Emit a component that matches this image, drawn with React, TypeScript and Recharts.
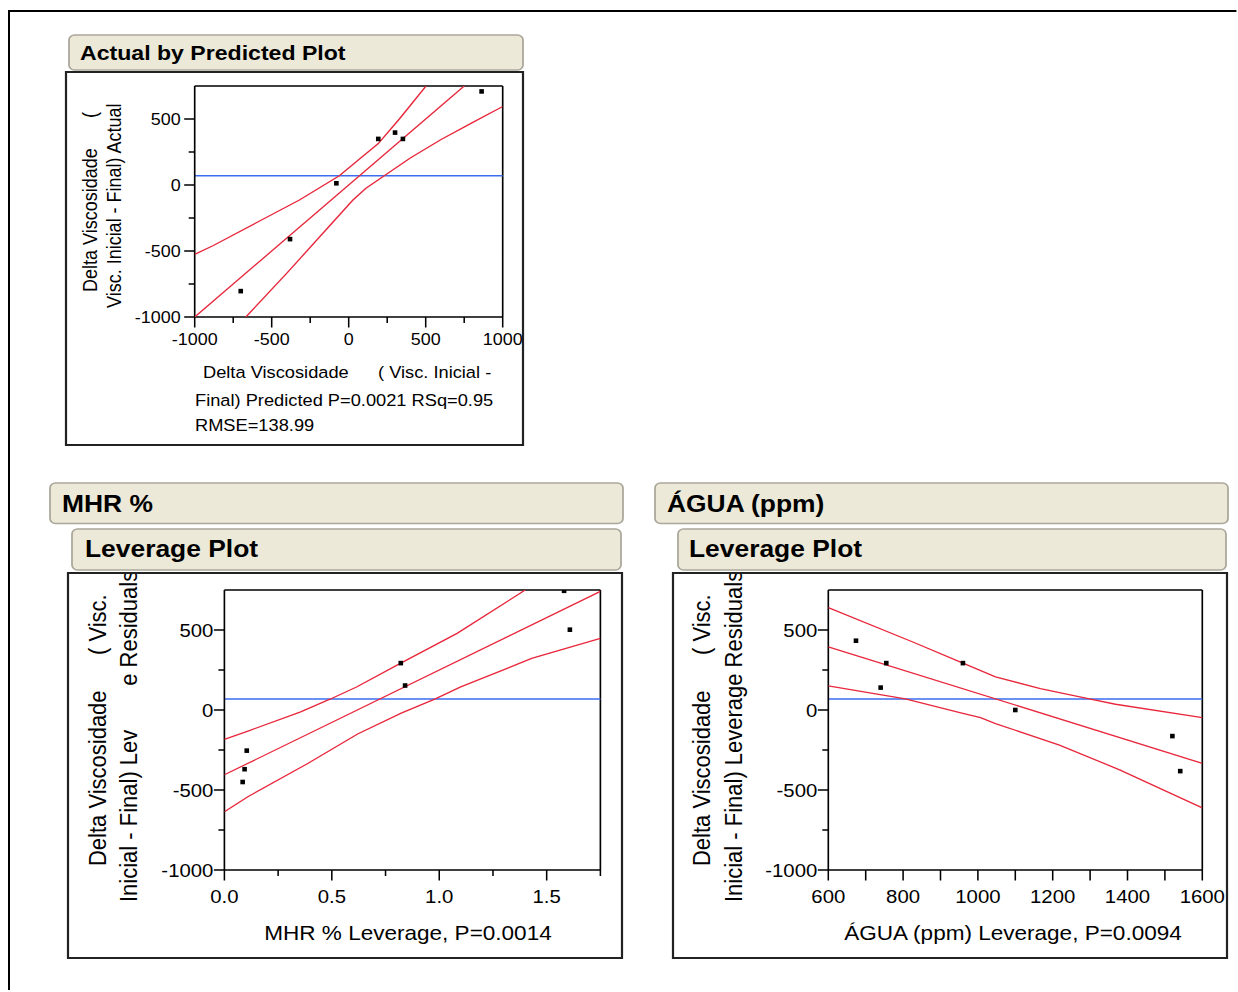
import React from 'react';
import { ComposedChart, XAxis, YAxis, Scatter, ReferenceLine } from 'recharts';

// the reference picture is a little wider than tall, so everything is drawn
// in narrower units and stretched back with scaleX
const SX = 1.1;
const sx = (v: number) => v / SX;
const FONT = '"Liberation Sans", Arial, Helvetica, sans-serif';
const RED = '#e8283c';
const BLUE = '#3a6df0';

// ---- Actual by Predicted ----
const predictedX = [-701, -381, -80, 192, 301, 352, 863];
const actualY = [-804, -410, 13, 349, 397, 349, 709];
const apFitX = [-1000, 1000];
const apFitY = [-1000, 1000];
const apUpperX = [-1000, -882, -600, -320, -61, 192, 329, 502];
const apUpperY = [-525, -460, -286, -114, 70, 314, 500, 750];
const apLowerX = [-668, -400, -147, 26, 112, 231, 400, 600, 800, 1000];
const apLowerY = [-1000, -666, -339, -116, -25, 70, 205, 345, 471, 595];
const apMean = 70;
const apXTicks = [-1000, -750, -500, -250, 0, 250, 500, 750, 1000];
const apYTicks = [-1000, -750, -500, -250, 0, 250, 500];

// ---- MHR % leverage ----
const mhrX = [0.085, 0.094, 0.104, 0.821, 0.841, 1.581, 1.608];
const mhrY = [-450, -370, -254, 293, 153, 745, 502];
const mhrFitX = [0, 1.75];
const mhrFitY = [-405, 741];
const mhrUpperX = [0, 0.113, 0.355, 0.494, 0.615, 0.821, 1.083, 1.4];
const mhrUpperY = [-184, -130, -12, 69, 144, 293, 479, 750];
const mhrLowerX = [0, 0.113, 0.39, 0.62, 0.823, 0.979, 1.1, 1.43, 1.75];
const mhrLowerY = [-636, -539, -333, -150, -20, 68, 144, 322, 448];
const mhrMean = 69;
const mhrXTicks = [0, 0.25, 0.5, 0.75, 1, 1.25, 1.5, 1.75];

// ---- ÁGUA (ppm) leverage ----
const aguaX = [674, 740, 755, 960, 1100, 1520, 1541];
const aguaY = [433, 140, 293, 293, 0, -163, -382];
const aguaFitX = [600, 1600];
const aguaFitY = [395, -333];
const aguaUpperX = [600, 826, 960, 1047, 1167, 1298, 1368, 1600];
const aguaUpperY = [640, 425, 293, 207, 134, 69, 36, -48];
const aguaLowerX = [600, 806, 957, 1007, 1047, 1218, 1379, 1600];
const aguaLowerY = [151, 69, -19, -48, -85, -219, -374, -612];
const aguaMean = 69;
const aguaXTicks = [600, 700, 800, 900, 1000, 1100, 1200, 1300, 1400, 1500, 1600];

const levYTicks = [-1000, -750, -500, -250, 0, 250, 500];

const zip = (xs: number[], ys: number[]) => xs.map((x, i) => ({ x, y: ys[i] }));
const isHalf = (v: number) => Math.abs(v * 2 - Math.round(v * 2)) < 1e-9;

const noShape = () => <g />;
const square = (size: number) => (props: any) => {
  const { cx, cy } = props;
  if (cx == null || cy == null) return <g />;
  const w = size / SX;
  return <rect x={cx - w / 2} y={cy - size / 2} width={w} height={size} fill="#000" />;
};

type TickOpts = {
  long: (v: number) => boolean;
  label: (v: number) => boolean;
  fmt: (v: number) => string;
  off: number;
  font: number;
};

const makeXTick = (o: TickOpts) => (props: any) => {
  const { x, y, payload } = props;
  const v = payload.value;
  const len = o.long(v) ? 10.5 : 6;
  return (
    <g>
      <line x1={x} x2={x} y1={y} y2={y + len} stroke="#000" strokeWidth={1.4} />
      {o.label(v) && (
        <text x={x} y={y + o.off} textAnchor="middle" fontSize={o.font} fontFamily={FONT} fill="#000">
          {o.fmt(v)}
        </text>
      )}
    </g>
  );
};

const makeYTick = (o: TickOpts) => (props: any) => {
  const { x, y, payload } = props;
  const v = payload.value;
  const len = o.long(v) ? 10.5 : 6;
  return (
    <g>
      <line x1={x} x2={x - len / SX} y1={y} y2={y} stroke="#000" strokeWidth={1.4} />
      {o.label(v) && (
        <text x={x - o.off / SX} y={y + o.font * 0.36} textAnchor="end" fontSize={o.font} fontFamily={FONT} fill="#000">
          {o.fmt(v)}
        </text>
      )}
    </g>
  );
};

type Rect = { L: number; R: number; T: number; B: number };

function Plot(props: {
  plot: Rect;
  xDomain: [number, number];
  yDomain: [number, number];
  xTicks: number[];
  yTicks: number[];
  xTick: (p: any) => React.ReactElement;
  yTick: (p: any) => React.ReactElement;
  points: { x: number; y: number }[];
  fit: { x: number; y: number }[];
  upper: { x: number; y: number }[];
  lower: { x: number; y: number }[];
  mean: number;
}) {
  const { plot } = props;
  const YW = 60, MT = 10, MR = 40, XH = 50;
  const w = YW + sx(plot.R - plot.L) + MR;
  const h = MT + (plot.B - plot.T) + XH;
  const red = { stroke: RED, strokeWidth: 1.3 };
  return (
    <div style={{ position: 'absolute', left: sx(plot.L) - YW, top: plot.T - MT }}>
      <ComposedChart width={w} height={h} margin={{ top: MT, right: MR, bottom: 0, left: 0 }}>
        <XAxis
          type="number"
          dataKey="x"
          domain={props.xDomain}
          ticks={props.xTicks}
          interval={0}
          allowDataOverflow
          height={XH}
          tickLine={false}
          tickSize={0}
          tickMargin={0}
          axisLine={{ stroke: '#000', strokeWidth: 1.5 }}
          tick={props.xTick}
        />
        <YAxis
          type="number"
          dataKey="y"
          domain={props.yDomain}
          ticks={props.yTicks}
          interval={0}
          allowDataOverflow
          width={YW}
          tickLine={false}
          tickSize={0}
          tickMargin={0}
          axisLine={{ stroke: '#000', strokeWidth: 1.5 }}
          tick={props.yTick}
        />
        <ReferenceLine y={props.yDomain[1]} stroke="#000" strokeWidth={1.5} />
        <ReferenceLine x={props.xDomain[1]} stroke="#000" strokeWidth={1.5} />
        <ReferenceLine y={props.mean} stroke={BLUE} strokeWidth={1.5} />
        <Scatter data={props.upper} line={red} shape={noShape} isAnimationActive={false} />
        <Scatter data={props.fit} line={red} shape={noShape} isAnimationActive={false} />
        <Scatter data={props.lower} line={red} shape={noShape} isAnimationActive={false} />
        <Scatter data={props.points} shape={square(4.6)} isAnimationActive={false} />
      </ComposedChart>
    </div>
  );
}

function Txt(p: { x: number; y: number; size: number; bold?: boolean; anchor?: string; rot?: boolean; children: React.ReactNode }) {
  const x = sx(p.x);
  return (
    <text
      x={x}
      y={p.y}
      fontSize={p.size}
      fontWeight={p.bold ? 'bold' : 'normal'}
      fontFamily={FONT}
      fill="#000"
      textAnchor={(p.anchor as any) || 'start'}
      transform={p.rot ? `rotate(-90 ${x} ${p.y})` : undefined}
    >
      {p.children}
    </text>
  );
}

function Header(p: { x: number; y: number; w: number; h: number }) {
  return <rect x={sx(p.x)} y={p.y} width={sx(p.w)} height={p.h} rx={5} fill="#ece9d8" stroke="#aaa79a" strokeWidth={1.6} />;
}

function Frame(p: { x: number; y: number; w: number; h: number }) {
  return <rect x={sx(p.x)} y={p.y} width={sx(p.w)} height={p.h} fill="#fff" stroke="#222" strokeWidth={2} />;
}

function Overlay() {
  return (
    <svg width={sx(1236)} height={990} style={{ position: 'absolute', left: 0, top: 0 }}>
      <defs>
        <clipPath id="clipL">
          <rect x={sx(69)} y={574} width={sx(552)} height={383} />
        </clipPath>
        <clipPath id="clipR">
          <rect x={sx(674)} y={574} width={sx(552)} height={383} />
        </clipPath>
      </defs>
      <rect x={sx(8)} y={10} width={sx(1230)} height={2} fill="#000" />
      <rect x={sx(8)} y={10} width={sx(2)} height={982} fill="#000" />

      {/* Actual by Predicted */}
      <Header x={69} y={35} w={454} h={35} />
      <Txt x={80} y={60} size={21} bold>Actual by Predicted Plot</Txt>
      <Frame x={66} y={72} w={457} h={373} />
      <Txt x={97.5} y={292} size={18} rot>Delta Viscosidade</Txt>
      <Txt x={97.5} y={118} size={18} rot>(</Txt>
      <Txt x={121} y={308} size={18} rot>Visc. Inicial - Final) Actual</Txt>
      <Txt x={203} y={378} size={16.6}>Delta Viscosidade</Txt>
      <Txt x={378} y={378} size={16.6}>( Visc. Inicial -</Txt>
      <Txt x={195} y={406} size={16.6}>Final) Predicted P=0.0021 RSq=0.95</Txt>
      <Txt x={195} y={431} size={16.6}>RMSE=138.99</Txt>

      {/* MHR % */}
      <Header x={50} y={483} w={573} h={40.5} />
      <Txt x={62} y={512} size={24} bold>MHR %</Txt>
      <Header x={72} y={529} w={549} h={41} />
      <Txt x={85} y={557} size={24} bold>Leverage Plot</Txt>
      <Frame x={68} y={573} w={554} h={385} />
      <g clipPath="url(#clipL)">
        <Txt x={106} y={866} size={22} rot>Delta Viscosidade</Txt>
        <Txt x={106} y={655} size={22} rot>( Visc.</Txt>
        <Txt x={137} y={902} size={22} rot>Inicial - Final) Leverage Residuals</Txt>
      </g>
      <rect x={sx(115)} y={686} width={sx(32)} height={43} fill="#fff" />
      <Txt x={408} y={940} size={20.5} anchor="middle">MHR % Leverage, P=0.0014</Txt>

      {/* ÁGUA (ppm) */}
      <Header x={655} y={483} w={573} h={40.5} />
      <Txt x={667} y={512} size={24} bold>ÁGUA (ppm)</Txt>
      <Header x={678} y={529} w={548} h={41} />
      <Txt x={689} y={557} size={24} bold>Leverage Plot</Txt>
      <Frame x={673} y={573} w={554} h={385} />
      <g clipPath="url(#clipR)">
        <Txt x={710.5} y={866} size={22} rot>Delta Viscosidade</Txt>
        <Txt x={710.5} y={655} size={22} rot>( Visc.</Txt>
        <Txt x={742} y={902} size={22} rot>Inicial - Final) Leverage Residuals</Txt>
      </g>
      <Txt x={1013} y={940} size={20.5} anchor="middle">ÁGUA (ppm) Leverage, P=0.0094</Txt>
    </svg>
  );
}

const on500 = (v: number) => v % 500 === 0;
const topXTick = makeXTick({ long: on500, label: on500, fmt: String, off: 28, font: 16.3 });
const topYTick = makeYTick({ long: on500, label: on500, fmt: String, off: 14, font: 16.3 });
const levYTick = makeYTick({ long: on500, label: on500, fmt: String, off: 11, font: 18.5 });
const mhrXTick = makeXTick({ long: isHalf, label: isHalf, fmt: (v) => v.toFixed(1), off: 33, font: 18.5 });
const aguaXTick = makeXTick({ long: () => true, label: (v) => v % 200 === 0, fmt: String, off: 33, font: 18.5 });

export default function App() {
  return (
    <div
      style={{
        position: 'absolute',
        left: 0,
        top: 0,
        width: sx(1236),
        height: 990,
        transform: `scaleX(${SX})`,
        transformOrigin: '0 0',
        overflow: 'hidden',
        background: '#fff',
      }}
    >
      <Overlay />
      <Plot
        plot={{ L: 195, R: 503, T: 86, B: 317 }}
        xDomain={[-1000, 1000]}
        yDomain={[-1000, 750]}
        xTicks={apXTicks}
        yTicks={apYTicks}
        xTick={topXTick}
        yTick={topYTick}
        points={zip(predictedX, actualY)}
        fit={zip(apFitX, apFitY)}
        upper={zip(apUpperX, apUpperY)}
        lower={zip(apLowerX, apLowerY)}
        mean={apMean}
      />
      <Plot
        plot={{ L: 224, R: 600, T: 590, B: 870 }}
        xDomain={[0, 1.75]}
        yDomain={[-1000, 750]}
        xTicks={mhrXTicks}
        yTicks={levYTicks}
        xTick={mhrXTick}
        yTick={levYTick}
        points={zip(mhrX, mhrY)}
        fit={zip(mhrFitX, mhrFitY)}
        upper={zip(mhrUpperX, mhrUpperY)}
        lower={zip(mhrLowerX, mhrLowerY)}
        mean={mhrMean}
      />
      <Plot
        plot={{ L: 828, R: 1202, T: 590, B: 870 }}
        xDomain={[600, 1600]}
        yDomain={[-1000, 750]}
        xTicks={aguaXTicks}
        yTicks={levYTicks}
        xTick={aguaXTick}
        yTick={levYTick}
        points={zip(aguaX, aguaY)}
        fit={zip(aguaFitX, aguaFitY)}
        upper={zip(aguaUpperX, aguaUpperY)}
        lower={zip(aguaLowerX, aguaLowerY)}
        mean={aguaMean}
      />
    </div>
  );
}
